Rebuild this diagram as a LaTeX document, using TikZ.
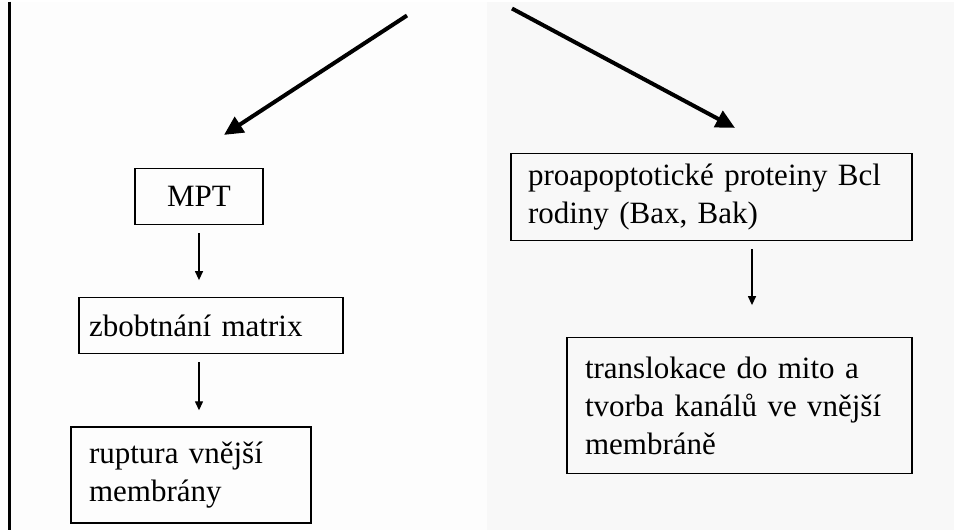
\documentclass[tikz,border=0pt]{standalone}
\usepackage{fontspec}
\setmainfont{Liberation Serif}
\usepackage{tikz}
\usetikzlibrary{arrows.meta}
\usetikzlibrary{positioning}
\definecolor{leftbg}{HTML}{FDFDFD}
\definecolor{rightbg}{HTML}{F8F8F8}
\tikzstyle{box} = [rectangle, draw=black, line width=1.2pt, align=left, inner ysep=0pt, font=\fontsize{31}{38}\selectfont]
\tikzstyle{arrow} = [line width=1.3pt, -{Triangle[length=9pt, width=8pt]}]
\tikzstyle{bigarrow} = [line width=4pt, -{Triangle[length=19pt, width=18pt]}]

\begin{document}
\begin{tikzpicture}[x=1pt, y=-1pt, node distance=72pt]
                                \fill [leftbg] (0,0) rectangle (487,528);
                                \fill [rightbg] (487,0) rectangle (954,528);
                                \draw [line width=3pt] (9,0) -- (9,528);
                                \useasboundingbox (0,0) rectangle (954,528);
                                \node (mpt) [box, align=center, minimum width=128pt, minimum height=56pt] at (199,195) {MPT};
                                \node (swell) [box, below=of mpt, xshift=12pt, text width=244pt, inner xsep=10pt, minimum height=56pt] {zbobtnání matrix};
                                \node (rupture) [box, below=of swell, xshift=-20pt, text width=204pt, inner xsep=18pt, minimum height=96pt] {ruptura vnější\\membrány};
                                \node (bcl) [box, text width=367pt, inner xsep=17pt, minimum height=87pt] at (711.5,195.5) {proapoptotické proteiny Bcl\\rodiny (Bax, Bak)};
                                \node (channel) [box, below=96pt of bcl, xshift=28pt, text width=309pt, inner xsep=18pt, minimum height=136pt] {translokace do mito a\\tvorba kanálů ve vnější\\membráně};
                                \coordinate (forkl) at (407,14);
                                \coordinate (forkr) at (512,7);
                                \coordinate (mid) at ([xshift=12.5pt]channel.north);
                                \draw [bigarrow] (forkl) -- ([xshift=25pt, yshift=33pt]mpt.north);
                                \draw [bigarrow] (forkr) -- ([xshift=23.5pt, yshift=25pt]bcl.north);
                                \draw [arrow, shorten <=8pt, shorten >=17pt] (mpt.south) -- (mpt.south |- swell.north);
                                \draw [arrow, shorten <=8pt, shorten >=16pt] (mpt.south |- swell.south) -- (mpt.south |- rupture.north);
                                \draw [arrow, shorten <=8pt, shorten >=32pt] (mid |- bcl.south) -- (mid);
                            \end{tikzpicture}
\end{document}
